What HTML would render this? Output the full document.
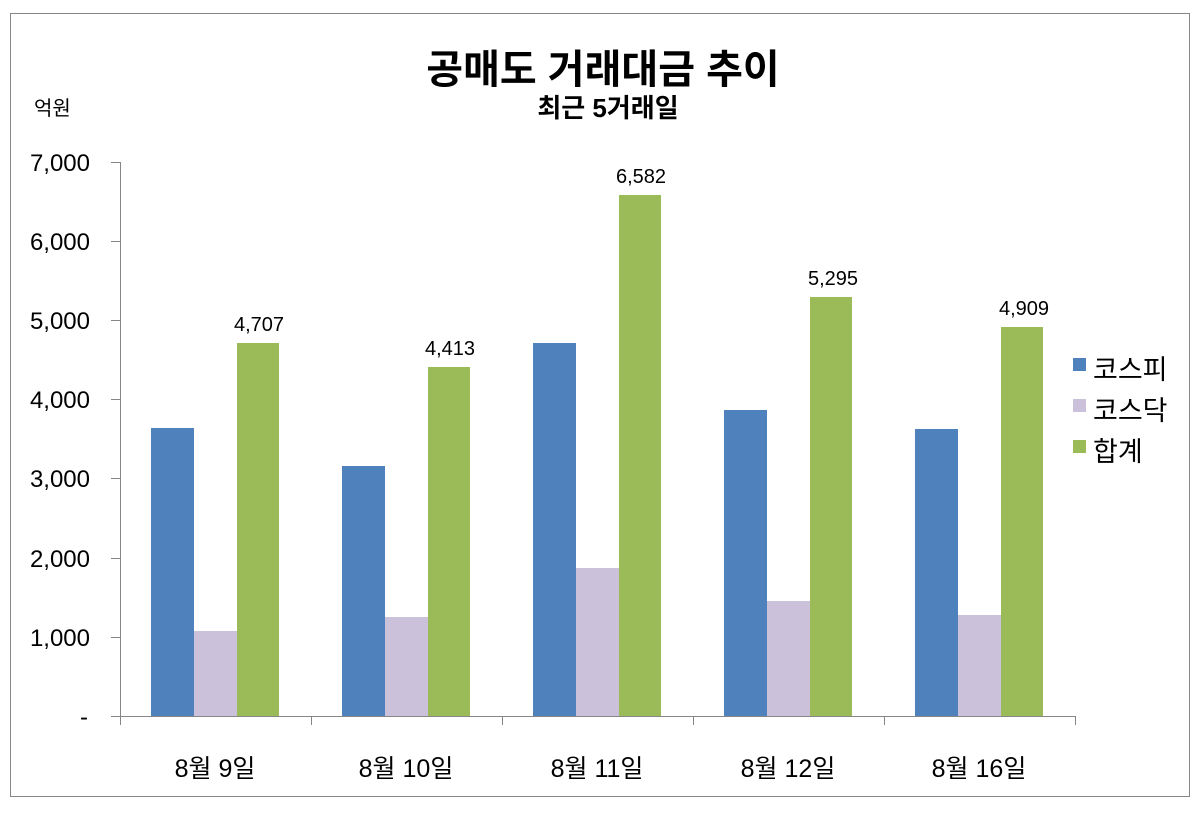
<!DOCTYPE html>
<html><head><meta charset="utf-8"><style>
html,body{margin:0;padding:0;background:#fff;}
svg{display:block;font-family:"Liberation Sans","Noto Sans CJK KR","NanumGothic",sans-serif;}
</style></head><body>
<svg width="1203" height="815" viewBox="0 0 1203 815" xmlns="http://www.w3.org/2000/svg">
<rect x="10.5" y="13.5" width="1179" height="783" fill="#fff" stroke="#868686" stroke-width="1"/>
<text x="603" y="83" text-anchor="middle" font-size="40" font-weight="bold" fill="#000">공매도 거래대금 추이</text>
<text x="608" y="117" text-anchor="middle" font-size="26" font-weight="bold" fill="#000">최근 5거래일</text>
<text x="34" y="115" font-size="20" fill="#000">억원</text>
<g font-size="24" fill="#000" text-anchor="end">
<text x="90" y="171">7,000</text>
<text x="90" y="250">6,000</text>
<text x="90" y="329">5,000</text>
<text x="90" y="408">4,000</text>
<text x="90" y="487">3,000</text>
<text x="90" y="567">2,000</text>
<text x="90" y="646">1,000</text>
<text x="88" y="725">-</text>
</g>
<g stroke="#868686" stroke-width="1">
<line x1="120.5" y1="162" x2="120.5" y2="717"/>
<line x1="111" y1="162.5" x2="120" y2="162.5"/>
<line x1="111" y1="241.5" x2="120" y2="241.5"/>
<line x1="111" y1="320.5" x2="120" y2="320.5"/>
<line x1="111" y1="399.5" x2="120" y2="399.5"/>
<line x1="111" y1="478.5" x2="120" y2="478.5"/>
<line x1="111" y1="558.5" x2="120" y2="558.5"/>
<line x1="111" y1="637.5" x2="120" y2="637.5"/>
<line x1="111" y1="716.5" x2="1075" y2="716.5"/>
<line x1="120.5" y1="716" x2="120.5" y2="725"/>
<line x1="311.5" y1="716" x2="311.5" y2="725"/>
<line x1="502.5" y1="716" x2="502.5" y2="725"/>
<line x1="693.5" y1="716" x2="693.5" y2="725"/>
<line x1="884.5" y1="716" x2="884.5" y2="725"/>
<line x1="1075.5" y1="716" x2="1075.5" y2="725"/>
</g>
<g>
<rect x="151" y="428" width="43" height="288" fill="#4F81BD"/>
<rect x="194" y="631" width="43" height="85" fill="#CCC1DA"/>
<rect x="237" y="343" width="42" height="373" fill="#9BBB59"/>
<rect x="342" y="466" width="43" height="250" fill="#4F81BD"/>
<rect x="385" y="617" width="43" height="99" fill="#CCC1DA"/>
<rect x="428" y="367" width="42" height="349" fill="#9BBB59"/>
<rect x="533" y="343" width="43" height="373" fill="#4F81BD"/>
<rect x="576" y="568" width="43" height="148" fill="#CCC1DA"/>
<rect x="619" y="195" width="42" height="521" fill="#9BBB59"/>
<rect x="724" y="410" width="43" height="306" fill="#4F81BD"/>
<rect x="767" y="601" width="43" height="115" fill="#CCC1DA"/>
<rect x="810" y="297" width="42" height="419" fill="#9BBB59"/>
<rect x="915" y="429" width="43" height="287" fill="#4F81BD"/>
<rect x="958" y="615" width="43" height="101" fill="#CCC1DA"/>
<rect x="1001" y="327" width="42" height="389" fill="#9BBB59"/>
</g>
<g font-size="20" fill="#000" text-anchor="middle">
<text x="259" y="331">4,707</text>
<text x="450" y="355">4,413</text>
<text x="641" y="183">6,582</text>
<text x="833" y="285">5,295</text>
<text x="1024" y="315">4,909</text>
</g>
<g font-size="25" fill="#000" text-anchor="middle">
<text x="215" y="777">8월 9일</text>
<text x="406" y="777">8월 10일</text>
<text x="597" y="777">8월 11일</text>
<text x="788" y="777">8월 12일</text>
<text x="979" y="777">8월 16일</text>
</g>
<rect x="1073" y="358" width="13" height="13" fill="#4F81BD"/>
<rect x="1073" y="399" width="13" height="13" fill="#CCC1DA"/>
<rect x="1073" y="440" width="13" height="13" fill="#9BBB59"/>
<g font-size="27" fill="#000">
<text x="1093" y="379">코스피</text>
<text x="1093" y="420">코스닥</text>
<text x="1093" y="461">합계</text>
</g>
</svg>
</body></html>
